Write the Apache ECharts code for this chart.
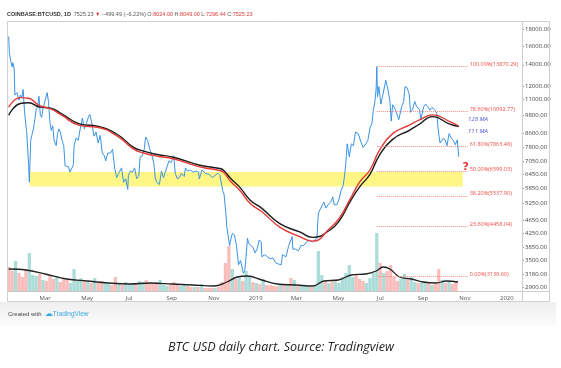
<!DOCTYPE html>
<html><head><meta charset="utf-8">
<script src="https://cdn.jsdelivr.net/npm/echarts@6/dist/echarts.min.js"></script>
<style>html,body{margin:0;padding:0;background:#fff}#c{width:561px;height:368px}</style>
</head><body><div id="c"></div>
<script>
// ---- price (daily BTC/USD, sampled) ----
const priceDates = [
'2018-01-07','2018-01-08','2018-01-10','2018-01-12','2018-01-13','2018-01-15','2018-01-16','2018-01-17','2018-01-19','2018-01-21','2018-01-22','2018-01-24','2018-01-26','2018-01-28','2018-01-30',
'2018-02-01','2018-02-02','2018-02-05','2018-02-06','2018-02-08','2018-02-10','2018-02-12','2018-02-14','2018-02-16','2018-02-18','2018-02-20','2018-02-22','2018-02-24','2018-02-26',
'2018-03-01','2018-03-04','2018-03-06','2018-03-08','2018-03-10','2018-03-12','2018-03-14','2018-03-17','2018-03-19','2018-03-21','2018-03-23','2018-03-26','2018-03-28','2018-03-30',
'2018-04-01','2018-04-04','2018-04-06','2018-04-09','2018-04-11','2018-04-12','2018-04-15','2018-04-18','2018-04-21','2018-04-24','2018-04-27','2018-04-30',
'2018-05-03','2018-05-05','2018-05-08','2018-05-11','2018-05-14','2018-05-17','2018-05-20','2018-05-23','2018-05-26','2018-05-28','2018-05-31',
'2018-06-04','2018-06-07','2018-06-10','2018-06-13','2018-06-16','2018-06-20','2018-06-23','2018-06-26','2018-06-29','2018-06-30',
'2018-07-03','2018-07-06','2018-07-09','2018-07-12','2018-07-15','2018-07-17','2018-07-20','2018-07-23','2018-07-25','2018-07-28','2018-07-31',
'2018-08-03','2018-08-06','2018-08-08','2018-08-10','2018-08-14','2018-08-17','2018-08-20','2018-08-24','2018-08-28','2018-08-31',
'2018-09-04','2018-09-06','2018-09-09','2018-09-12','2018-09-15','2018-09-19','2018-09-21','2018-09-24','2018-09-28',
'2018-10-02','2018-10-06','2018-10-10','2018-10-11','2018-10-15','2018-10-20','2018-10-25','2018-10-30',
'2018-11-03','2018-11-07','2018-11-10','2018-11-14','2018-11-16','2018-11-19','2018-11-20','2018-11-22','2018-11-24','2018-11-25','2018-11-28',
'2018-12-01','2018-12-04','2018-12-07','2018-12-10','2018-12-14','2018-12-16','2018-12-18','2018-12-20','2018-12-22','2018-12-24','2018-12-28','2018-12-31',
'2019-01-03','2019-01-06','2019-01-09','2019-01-10','2019-01-14','2019-01-18','2019-01-22','2019-01-26','2019-01-30',
'2019-02-03','2019-02-07','2019-02-09','2019-02-14','2019-02-18','2019-02-23','2019-02-24','2019-02-28',
'2019-03-04','2019-03-08','2019-03-12','2019-03-16','2019-03-20','2019-03-24','2019-03-28','2019-03-31',
'2019-04-02','2019-04-05','2019-04-08','2019-04-10','2019-04-13','2019-04-16','2019-04-20','2019-04-23','2019-04-25','2019-04-29',
'2019-05-02','2019-05-05','2019-05-08','2019-05-10','2019-05-12','2019-05-14','2019-05-16','2019-05-17','2019-05-20','2019-05-23','2019-05-26','2019-05-30',
'2019-06-03','2019-06-06','2019-06-10','2019-06-13','2019-06-16','2019-06-19','2019-06-21','2019-06-23','2019-06-25','2019-06-26','2019-06-27','2019-06-29',
'2019-07-02','2019-07-04','2019-07-06','2019-07-09','2019-07-12','2019-07-15','2019-07-17','2019-07-19','2019-07-22','2019-07-25','2019-07-28',
'2019-08-01','2019-08-04','2019-08-06','2019-08-09','2019-08-12','2019-08-14','2019-08-17','2019-08-20','2019-08-23','2019-08-27','2019-08-29',
'2019-09-02','2019-09-05','2019-09-08','2019-09-11','2019-09-14','2019-09-18','2019-09-21','2019-09-24','2019-09-26','2019-09-30',
'2019-10-03','2019-10-06','2019-10-09','2019-10-12','2019-10-15','2019-10-18','2019-10-21','2019-10-23'
];
const priceClose = [
17100,15200,14400,13800,14200,13600,11300,11200,11500,11600,10900,11300,11100,11750,10100,
9100,8800,6900,6100,8200,8550,8900,9500,10200,10400,11200,9800,9650,10300,
10900,11500,10700,9300,8800,9100,8200,7900,8600,8900,8700,8150,7900,6850,
6800,6800,6550,6750,6900,7900,8350,8200,8900,9600,8900,9250,
9700,9850,9200,8450,8700,8050,8500,7500,7350,7100,7500,
7500,7700,6750,6300,6500,6750,6100,6250,5800,6400,
6600,6550,6750,6250,6350,7300,7350,7700,8400,8200,7700,
7400,6950,6300,6100,6000,6600,6300,6700,7100,7000,
7350,6500,6250,6300,6500,6350,6750,6600,6650,
6550,6600,6550,6250,6650,6500,6450,6300,
6400,6500,6400,5750,5600,4800,4450,4400,3900,4000,4250,
4200,3900,3400,3500,3200,3250,3600,4100,3950,4000,3850,3700,
3800,4050,4000,3600,3650,3600,3550,3570,3450,
3420,3400,3650,3600,3900,4150,3800,3800,
3750,3900,3900,4000,4050,4000,4050,4100,
4900,5050,5200,5300,5080,5200,5300,5500,5200,5200,
5400,5750,5950,6350,7000,8000,7900,7300,8000,7900,8700,8600,
8100,7800,8000,8200,8950,9250,10200,10700,11800,13800,11150,12000,
10600,11100,11200,12550,11800,10850,9400,10550,10300,9900,9500,
10400,10800,12000,11900,11400,10000,10200,10800,10400,10200,9500,
10400,10600,10400,10150,10350,10200,9950,8550,8050,8300,
8250,7900,8600,8350,8200,7950,8230,7300
];

// ---- moving averages ----
const maDates = ['2018-01-07','2018-01-24','2018-02-05','2018-02-20','2018-03-09','2018-03-25','2018-04-21','2018-05-16','2018-06-14','2018-07-07','2018-07-22','2018-08-11','2018-09-03','2018-10-12','2018-11-10','2018-11-16','2018-11-25','2018-12-09','2018-12-24','2019-01-10','2019-02-05','2019-03-06','2019-03-25','2019-04-19','2019-05-03','2019-05-18','2019-06-01','2019-06-16','2019-06-30','2019-07-19','2019-08-13','2019-08-27','2019-09-15','2019-10-10','2019-10-23'];
const maRed   = [10370,11100,11050,10500,10250,9800,9100,9000,8450,7720,7500,7330,7200,6800,6620,6520,6150,5750,5250,4950,4440,4150,4020,4410,4750,5400,6100,6650,7660,8600,9150,9480,9820,9370,9080];
const maBlack = [9800,10650,10700,10400,10300,9900,9200,9060,8550,7820,7600,7420,7280,6880,6720,6620,6280,5880,5370,5070,4550,4290,4130,4350,4660,5310,5900,6450,7390,8260,8820,9200,9700,9200,9050];

// ---- volume (5-day buckets starting 2018-01-07) ----
const volStart = '2018-01-07';
const volStepDays = 5;
const volValues = [
24,20,30,18,14, 22,38,16,15,17,11, 10,16,12,15,9,12, 11,8,22,10,13,11, 9,8,13,8,10,8, 7,6,14,7,6,9,
7,6,7,10,9,11,8, 7,9,11,6,5,6, 9,7,5,6,5,4, 4,4,7,3,3,3, 3,4,9,28,45,22, 12,15,10,20,14,9,
8,7,12,6,6,5, 5,6,7,6,13,11, 5,6,5,5,4,6, 40,16,10,8,9,9, 8,14,18,26,14,16, 12,10,8,13,18,58,
28,18,20,26,14,10,12, 17,12,14,9,8,8, 10,8,6,7,22,11, 8,10,7,9
];
const volMaDates = ['2018-01-07','2018-02-01','2018-03-01','2018-04-01','2018-05-01','2018-06-01','2018-07-01','2018-08-01','2018-09-01','2018-10-01','2018-11-01','2018-11-20','2018-12-05','2018-12-20','2019-01-10','2019-02-01','2019-03-01','2019-03-25','2019-04-10','2019-05-01','2019-05-20','2019-06-10','2019-06-25','2019-07-05','2019-07-15','2019-07-29','2019-08-15','2019-09-01','2019-09-20','2019-10-05','2019-10-22'];
const volMaValues = [22,21,17,12,10,8,7,8,7,6,5,9,14,15,11,7,6,5,10,11,16,17,20,24,22,14,12,9,8,10,9];

// ---- fibonacci retracement ----
const fibNames = ['100.00%(13870.29)','78.60%(10092.77)','61.80%(7863.48)','50.00%(6599.03)','38.20%(5537.90)','23.60%(4458.04)','0.00%(3139.60)'];
const fibValues = [13870.29,10092.77,7863.48,6599.03,5537.90,4458.04,3139.60];
const fibStart = '2019-06-26', fibEnd = '2019-11-05';

// ---- support zone ----
const zoneStart = '2018-02-07', zoneEnd = '2019-10-29', zoneTop = 6560, zoneBottom = 5920;

// ---- axes ----
const xTickDates = ['2018-03-01','2018-05-01','2018-07-01','2018-09-01','2018-11-01','2019-01-01','2019-03-01','2019-05-01','2019-07-01','2019-09-01','2019-11-01','2020-01-01'];
const monthAbbr = ['Jan','Feb','Mar','Apr','May','Jun','Jul','Aug','Sep','Oct','Nov','Dec'];
const yTicks = [2900,3180,3500,3850,4250,4650,5250,5850,6450,7050,7800,8600,9800,11000,12000,14000,16000,18000];

const ts = s => +new Date(s + 'T00:00:00');
const DAY = 86400000;

function priceAt(t) {
  let v = priceClose[0];
  for (let i = 0; i < priceDates.length; i++) { if (ts(priceDates[i]) <= t) v = priceClose[i]; else break; }
  return v;
}
const volData = volValues.map((v, i) => {
  const t = ts(volStart) + i * volStepDays * DAY;
  const up = priceAt(t + (volStepDays - 1) * DAY) >= priceAt(t - DAY);
  return { value: [t, v], itemStyle: { color: up ? 'rgba(38,166,154,0.38)' : 'rgba(239,83,80,0.38)' } };
});

const chart = echarts.init(document.getElementById('c'), null, { renderer: 'canvas' });
const option = {
  animation: false,
  backgroundColor: '#fff',
  tooltip: { show: false },
  grid: { left: 8, right: 39, top: 22, bottom: 77 },
  xAxis: {
    type: 'value', min: ts('2018-01-06'), max: ts('2020-01-23'),
    axisLine: { show: true, lineStyle: { color: '#c8c8c8', width: 1 } },
    axisTick: { show: false },
    splitLine: { show: false },
    axisLabel: {
      customValues: xTickDates.map(ts),
      formatter: v => { const d = new Date(v); return d.getMonth() === 0 ? String(d.getFullYear()) : monthAbbr[d.getMonth()]; },
      fontSize: 6, color: '#555', margin: 4, fontFamily: 'Open Sans'
    }
  },
  yAxis: [{
    type: 'log', position: 'right', min: 2825, max: 18950,
    axisLine: { show: true, lineStyle: { color: '#c8c8c8' } },
    axisTick: { show: true, customValues: yTicks, length: 2, lineStyle: { color: '#999' } },
    axisLabel: { customValues: yTicks, formatter: v => Number(v).toFixed(2), fontSize: 6, color: '#444', margin: 3, fontFamily: 'Open Sans' },
    splitLine: { show: false }
  }, {
    type: 'value', min: 0, max: 269, show: false
  }],
  series: [
    { type: 'bar', yAxisIndex: 1, data: volData, barWidth: 3.3, z: 1, silent: true },
    { type: 'line', yAxisIndex: 1, data: volMaDates.map((d, i) => [ts(d), volMaValues[i]]), smooth: 0.4, showSymbol: false, lineStyle: { color: '#222', width: 1.3 }, z: 2, silent: true },
    { type: 'line', data: priceDates.map((d, i) => [ts(d), priceClose[i]]), showSymbol: false, lineStyle: { color: '#3a93e6', width: 1 }, z: 3, silent: true },
    { type: 'line', data: maDates.map((d, i) => [ts(d), maBlack[i]]), smooth: 0.5, showSymbol: false, lineStyle: { color: '#1a1a1a', width: 1.4 }, z: 4, silent: true,
      markPoint: { symbol: 'circle', symbolSize: 1, itemStyle: { color: 'rgba(0,0,0,0)' },
        label: { show: true, formatter: '111 MA', color: '#4a52d0', fontSize: 6, fontStyle: 'italic', fontFamily: 'Open Sans' },
        data: [{ coord: [ts('2019-11-20'), 8760] }] } },
    { type: 'line', data: maDates.map((d, i) => [ts(d), maRed[i]]), smooth: 0.5, showSymbol: false, lineStyle: { color: '#e53935', width: 1.4 }, z: 4, silent: true,
      markPoint: { symbol: 'circle', symbolSize: 1, itemStyle: { color: 'rgba(0,0,0,0)' },
        label: { show: true, formatter: '128 MA', color: '#4a52d0', fontSize: 6, fontStyle: 'italic', fontFamily: 'Open Sans' },
        data: [{ coord: [ts('2019-11-20'), 9540] }] } },
    { type: 'line', data: [], z: 5, silent: true,
      markArea: { silent: true, itemStyle: { color: 'rgba(255,240,60,0.62)' },
        data: [[{ coord: [ts(zoneStart), zoneTop] }, { coord: [ts(zoneEnd), zoneBottom] }]] },
      markPoint: { symbol: 'circle', symbolSize: 1, itemStyle: { color: 'rgba(0,0,0,0)' },
        label: { show: true, formatter: '?', color: '#e8322e', fontSize: 11, fontWeight: 'bold', fontFamily: 'DejaVu Sans' },
        data: [{ coord: [ts('2019-11-02'), 6790] }] } },
    { type: 'line', data: [], z: 6, silent: true,
      markLine: { silent: true, symbol: ['none', 'none'],
        lineStyle: { type: 'dotted', color: '#f08a84', width: 1 },
        label: { show: true, position: 'end', formatter: '{b}', color: '#ee4b43', fontSize: 5.5, distance: 2, offset: [0, -2], fontFamily: 'Open Sans' },
        data: fibValues.map((v, i) => [{ coord: [ts(fibStart), v], name: fibNames[i] }, { coord: [ts(fibEnd), v] }]) } }
  ],
  graphic: [
    { type: 'rect', shape: { x: 7.5, y: 21.5, width: 542, height: 280 }, style: { fill: 'none', stroke: '#cfcfcf', lineWidth: 1 }, z: 100 },
    { type: 'line', shape: { x1: 522.5, y1: 21.5, x2: 522.5, y2: 301.5 }, style: { stroke: '#cfcfcf', lineWidth: 1 }, z: 100 },
    { type: 'line', shape: { x1: 522.5, y1: 291.5, x2: 549.5, y2: 291.5 }, style: { stroke: '#cfcfcf', lineWidth: 1 }, z: 100 },
    { type: 'rect', shape: { x: 0, y: 302, width: 556, height: 24 }, style: { fill: new echarts.graphic.LinearGradient(0, 0, 0, 1, [{ offset: 0, color: '#efefef' }, { offset: 1, color: '#fbfbfb' }]) }, z: 1 },
    { type: 'text', x: 7, y: 14, z: 100, style: {
      text: '{b|COINBASE:BTCUSD, 1D}  {g|7525.23} {r|▼} {g|−499.49 (−6.22%)} {g|O:}{r|8024.00} {g|H:}{r|8049.00} {g|L:}{r|7296.44} {g|C:}{r|7525.23}',
      verticalAlign: 'middle', fontSize: 5.5, fontFamily: 'Open Sans',
      rich: { b: { fontSize: 5.5, fontWeight: 'bold', fill: '#333' }, g: { fontSize: 5.5, fill: '#555' }, r: { fontSize: 5.5, fill: '#e03a36' } } } },
    { type: 'text', x: 8, y: 314, z: 100, style: {
      text: '{g|Created with} {l|☁}{t|TradingView}', verticalAlign: 'middle', fontFamily: 'Open Sans',
      rich: { g: { fontSize: 6, fill: '#444' }, l: { fontSize: 8, fill: '#3aa9e0' }, t: { fontSize: 6.5, fill: '#3aa9e0' } } } },
    { type: 'text', x: 281, y: 347, z: 100, style: {
      text: 'BTC USD daily chart. Source: Tradingview', align: 'center', verticalAlign: 'middle',
      fontSize: 12.5, fontStyle: 'italic', fontFamily: 'Open Sans', fill: '#222' } }
  ]
};
chart.setOption(option);
</script>
</body></html>
